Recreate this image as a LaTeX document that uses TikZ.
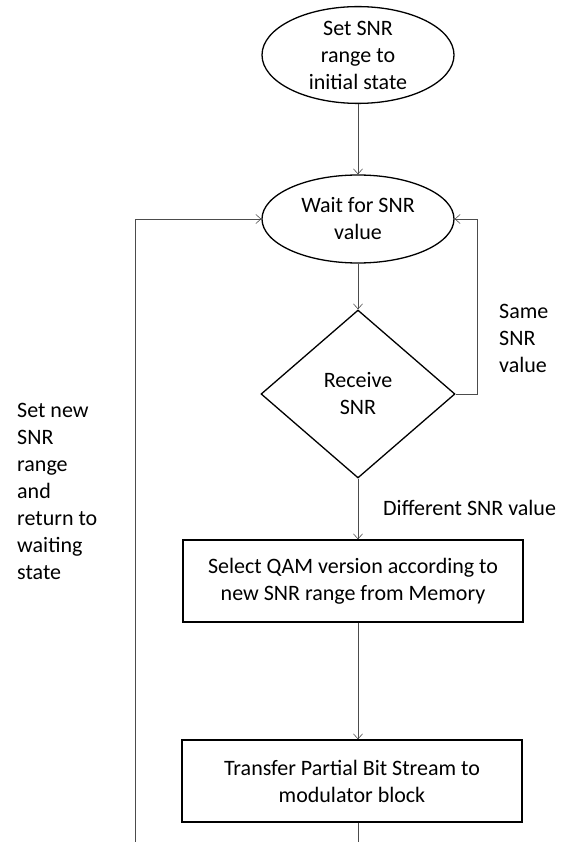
\documentclass[tikz,border=0pt]{standalone}
\usepackage{fontspec}
\setmainfont{Carlito}
\usetikzlibrary{arrows.meta,positioning,shapes.geometric}

\begin{document}
\begin{tikzpicture}[x=1pt,y=-1pt,
  font=\fontsize{22}{27}\selectfont,
  stateell/.style={ellipse,draw,line width=1.3pt,minimum width=192pt,
    minimum height=96pt,align=center,inner sep=0pt},
  decision/.style={diamond,draw,line width=1.3pt,minimum width=194pt,
    minimum height=168pt,align=center,inner sep=0pt},
  process/.style={rectangle,draw,line width=1.3pt,minimum width=340pt,
    minimum height=82pt,align=center},
  flow/.style={draw=black!70,line width=0.6pt,
    -{Straight Barb[length=5pt,width=9pt]}},
  note/.style={align=left,anchor=west,inner sep=0pt}]
\useasboundingbox (0,0) rectangle (562,842);
% States and blocks
\node[stateell] (init) at (358,55) {Set SNR\\range to\\initial state};
\node[stateell,minimum height=88pt] (wait) at (358,219) {Wait for SNR\\value};
\node[decision] (recv) at (358,394) {Receive\\SNR};
\node[process] (select) at (353,581)
  {Select QAM version according to\\new SNR range from Memory};
\node[process] (xfer) at (352,781)
  {Transfer Partial Bit Stream to\\modulator block};
% Loose ends at the bottom
\coordinate (leftend) at (135,842);
\coordinate (botend) at (358,842);
% Connectors
\draw[flow] (init) -- (wait);
\draw[flow] (wait) -- (recv);
\draw[flow] (recv.east) -- ++(22,0) |- (wait.east);
\draw[flow] (recv.south) -- (recv.south |- select.north);
\draw[flow] (select.south -| recv.south) -- (recv.south |- xfer.north);
\draw[draw=black!70,line width=0.6pt] (recv.south |- xfer.south) -- (botend);
\draw[flow] (leftend) |- (wait.west);
% Labels
\node[note] (same) at (499,338) {Same\\SNR\\value};
\node[note] (diff) at (383,508) {Different SNR value};
\node[note] (setnew) at (17,491)
  {Set new\\SNR\\range\\and\\return to\\waiting\\state};
\end{tikzpicture}
\end{document}
